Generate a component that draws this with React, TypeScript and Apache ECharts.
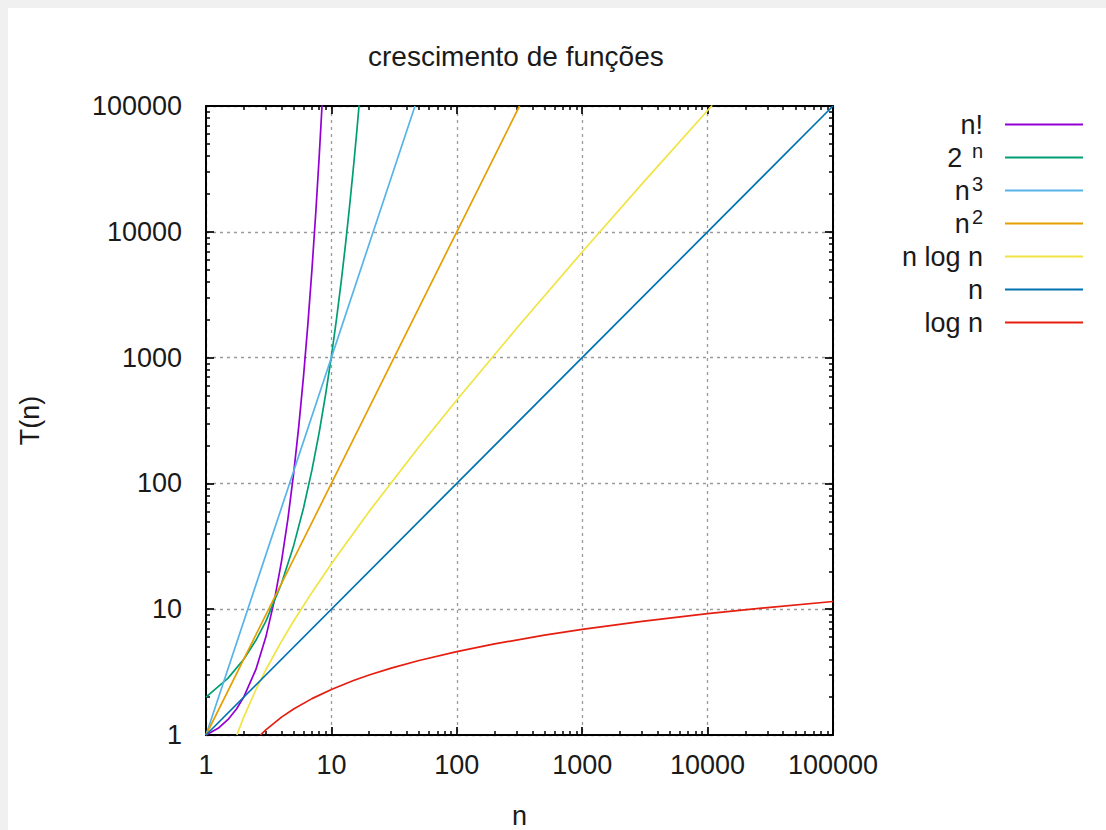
import React, { useEffect, useRef } from "react";
import * as echarts from "echarts";

const TITLE = "crescimento de funções";
const X_NAME = "n";
const Y_NAME = "T(n)";
const AXIS_MIN = 1;
const AXIS_MAX = 100000;

const seriesNames = ["n!", "2^n", "n^3", "n^2", "n log n", "n", "log n"];
const seriesColors = ["#9400d3", "#009e73", "#56b4e9", "#e69f00", "#f0e442", "#0072b2", "#e51e10"];

const factorialData = [
  [1, 1], [1.25, 1.13], [1.5, 1.33], [1.75, 1.61], [2, 2], [2.5, 3.32], [3, 6], [3.5, 11.6],
  [4, 24], [4.5, 52.3], [5, 120], [5.5, 288], [6, 720], [6.5, 1871], [7, 5040], [7.5, 14034],
  [8, 40320], [8.5, 119292],
];
const powerOfTwoData = [
  [1, 2], [1.5, 2.83], [2, 4], [2.5, 5.66], [3, 8], [4, 16], [5, 32], [6, 64], [7, 128], [8, 256],
  [9, 512], [10, 1024], [11, 2048], [12, 4096], [13, 8192], [14, 16384], [15, 32768],
  [16, 65536], [17, 131072],
];
const cubeData = [[1, 1], [10, 1000], [46.42, 100000]];
const squareData = [[1, 1], [10, 100], [100, 10000], [316.2, 100000]];
const nLogNData = [
  [1.763, 1], [2, 1.386], [2.5, 2.29], [3, 3.3], [4, 5.55], [5, 8.05], [7, 13.6], [10, 23.0],
  [20, 59.9], [50, 195.6], [100, 460.5], [300, 1711], [1000, 6908], [3000, 24019],
  [10000, 92103], [10900, 101300],
];
const linearData = [[1, 1], [100000, 100000]];
const logData = [
  [2.718, 1], [3, 1.099], [4, 1.386], [5, 1.609], [7, 1.946], [10, 2.303], [15, 2.708],
  [20, 2.996], [30, 3.401], [50, 3.912], [100, 4.605], [200, 5.298], [500, 6.215],
  [1000, 6.908], [3000, 8.006], [10000, 9.21], [30000, 10.31], [100000, 11.51],
];
const seriesData = [factorialData, powerOfTwoData, cubeData, squareData, nLogNData, linearData, logData];

const legendLabels: Record<string, string> = {
  "n!": "n!",
  "2^n": "2 {sup|n}",
  "n^3": "n{sup|3}",
  "n^2": "n{sup|2}",
  "n log n": "n log n",
  "n": "n",
  "log n": "log n",
};

// minor tick positions (in decades) for the log axes: 2..9 within each decade
const MINOR_MULTIPLIERS = [2, 3, 4, 5, 6, 7, 8, 9];
const DECADES = [0, 1, 2, 3, 4];
const minorTickPositions: number[] = [];
DECADES.forEach((d) => MINOR_MULTIPLIERS.forEach((m) => minorTickPositions.push(d + Math.log10(m))));

const FONT = "'Liberation Sans', Arial, sans-serif";
const TEXT_COLOR = "#1a1a1a";
const FONT_SIZE = 27;

export default function App() {
  const ref = useRef<HTMLDivElement>(null);

  useEffect(() => {
    if (!ref.current) return;
    const chart = echarts.init(ref.current, undefined, { renderer: "svg" });

    const axisLine = { show: true, lineStyle: { color: "#000", width: 2 } };
    const majorTick = { show: true, inside: true, length: 8, lineStyle: { color: "#000", width: 1.7 } };
    const minorTick = {
      show: true, inside: true, length: 4, customValues: minorTickPositions,
      lineStyle: { color: "#000", width: 1.5 },
    };
    const splitLine = { show: true, lineStyle: { color: "#9a9a9a", width: 1.3, type: [3, 4] } };
    const labelFmt = (v: number) => String(Math.round(v));

    const mainLog = (position: string, withLabels: boolean, name?: string) => ({
      type: "log",
      logBase: 10,
      min: AXIS_MIN,
      max: AXIS_MAX,
      position,
      axisLine,
      axisTick: majorTick,
      splitLine: withLabels ? splitLine : { show: false },
      axisLabel: {
        show: withLabels,
        formatter: labelFmt,
        fontSize: FONT_SIZE,
        fontFamily: FONT,
        color: TEXT_COLOR,
      },
      name,
    });
    const minorAxis = (position: string) => ({
      type: "value",
      min: 0,
      max: 5,
      position,
      axisLine: { show: false },
      axisTick: minorTick,
      axisLabel: { show: false },
      splitLine: { show: false },
    });

    const xMain: any = {
      ...mainLog("bottom", true, X_NAME),
      nameLocation: "middle",
      nameGap: 67,
      nameTextStyle: { fontSize: FONT_SIZE, fontFamily: FONT, color: TEXT_COLOR },
    };
    xMain.axisLabel.margin = 16;
    const yMain: any = {
      ...mainLog("left", true, Y_NAME),
      nameLocation: "middle",
      nameGap: 163,
      nameRotate: 90,
      nameTextStyle: { fontSize: FONT_SIZE, fontFamily: FONT, color: TEXT_COLOR },
    };
    yMain.axisLabel.margin = 24;

    chart.setOption({
      animation: false,
      title: {
        text: TITLE,
        left: 368,
        top: 42,
        padding: 0,
        textStyle: { fontSize: 28, fontWeight: "normal", fontFamily: FONT, color: TEXT_COLOR },
      },
      grid: {
        left: 206, top: 106, right: 273, bottom: 95,
        containLabel: false, outerBoundsMode: "none",
      },
      legend: {
        orient: "vertical",
        right: 23,
        top: 108,
        padding: 0,
        align: "right",
        icon: "rect",
        itemWidth: 78,
        itemHeight: 2,
        itemGap: 0,
        data: seriesNames,
        formatter: (name: string) => legendLabels[name],
        textStyle: {
          fontSize: FONT_SIZE,
          fontFamily: FONT,
          color: TEXT_COLOR,
          lineHeight: 33,
          padding: [0, 17, 0, 0],
          rich: {
            sup: {
              fontSize: 20, fontFamily: FONT, color: TEXT_COLOR, verticalAlign: "top",
              lineHeight: 20, padding: [0, 0, 0, 2],
            },
          },
        },
      },
      xAxis: [xMain, minorAxis("bottom"), mainLog("top", false), minorAxis("top")],
      yAxis: [yMain, minorAxis("left"), mainLog("right", false), minorAxis("right")],
      series: seriesNames.map((name, i) => ({
        name,
        type: "line",
        xAxisIndex: 0,
        yAxisIndex: 0,
        symbol: "none",
        clip: true,
        z: 2 + i,
        data: seriesData[i],
        lineStyle: { color: seriesColors[i], width: 1.7 },
        itemStyle: { color: seriesColors[i] },
      })),
    });

    return () => chart.dispose();
  }, []);

  return (
    <div style={{ position: "fixed", left: 0, top: 0, width: 1106, height: 830, background: "#f0f0f0" }}>
      <div style={{ position: "absolute", left: 8, top: 8, width: 1098, height: 822, background: "#ffffff" }} />
      <div ref={ref} style={{ position: "absolute", left: 0, top: 0, width: 1106, height: 830 }} />
    </div>
  );
}
